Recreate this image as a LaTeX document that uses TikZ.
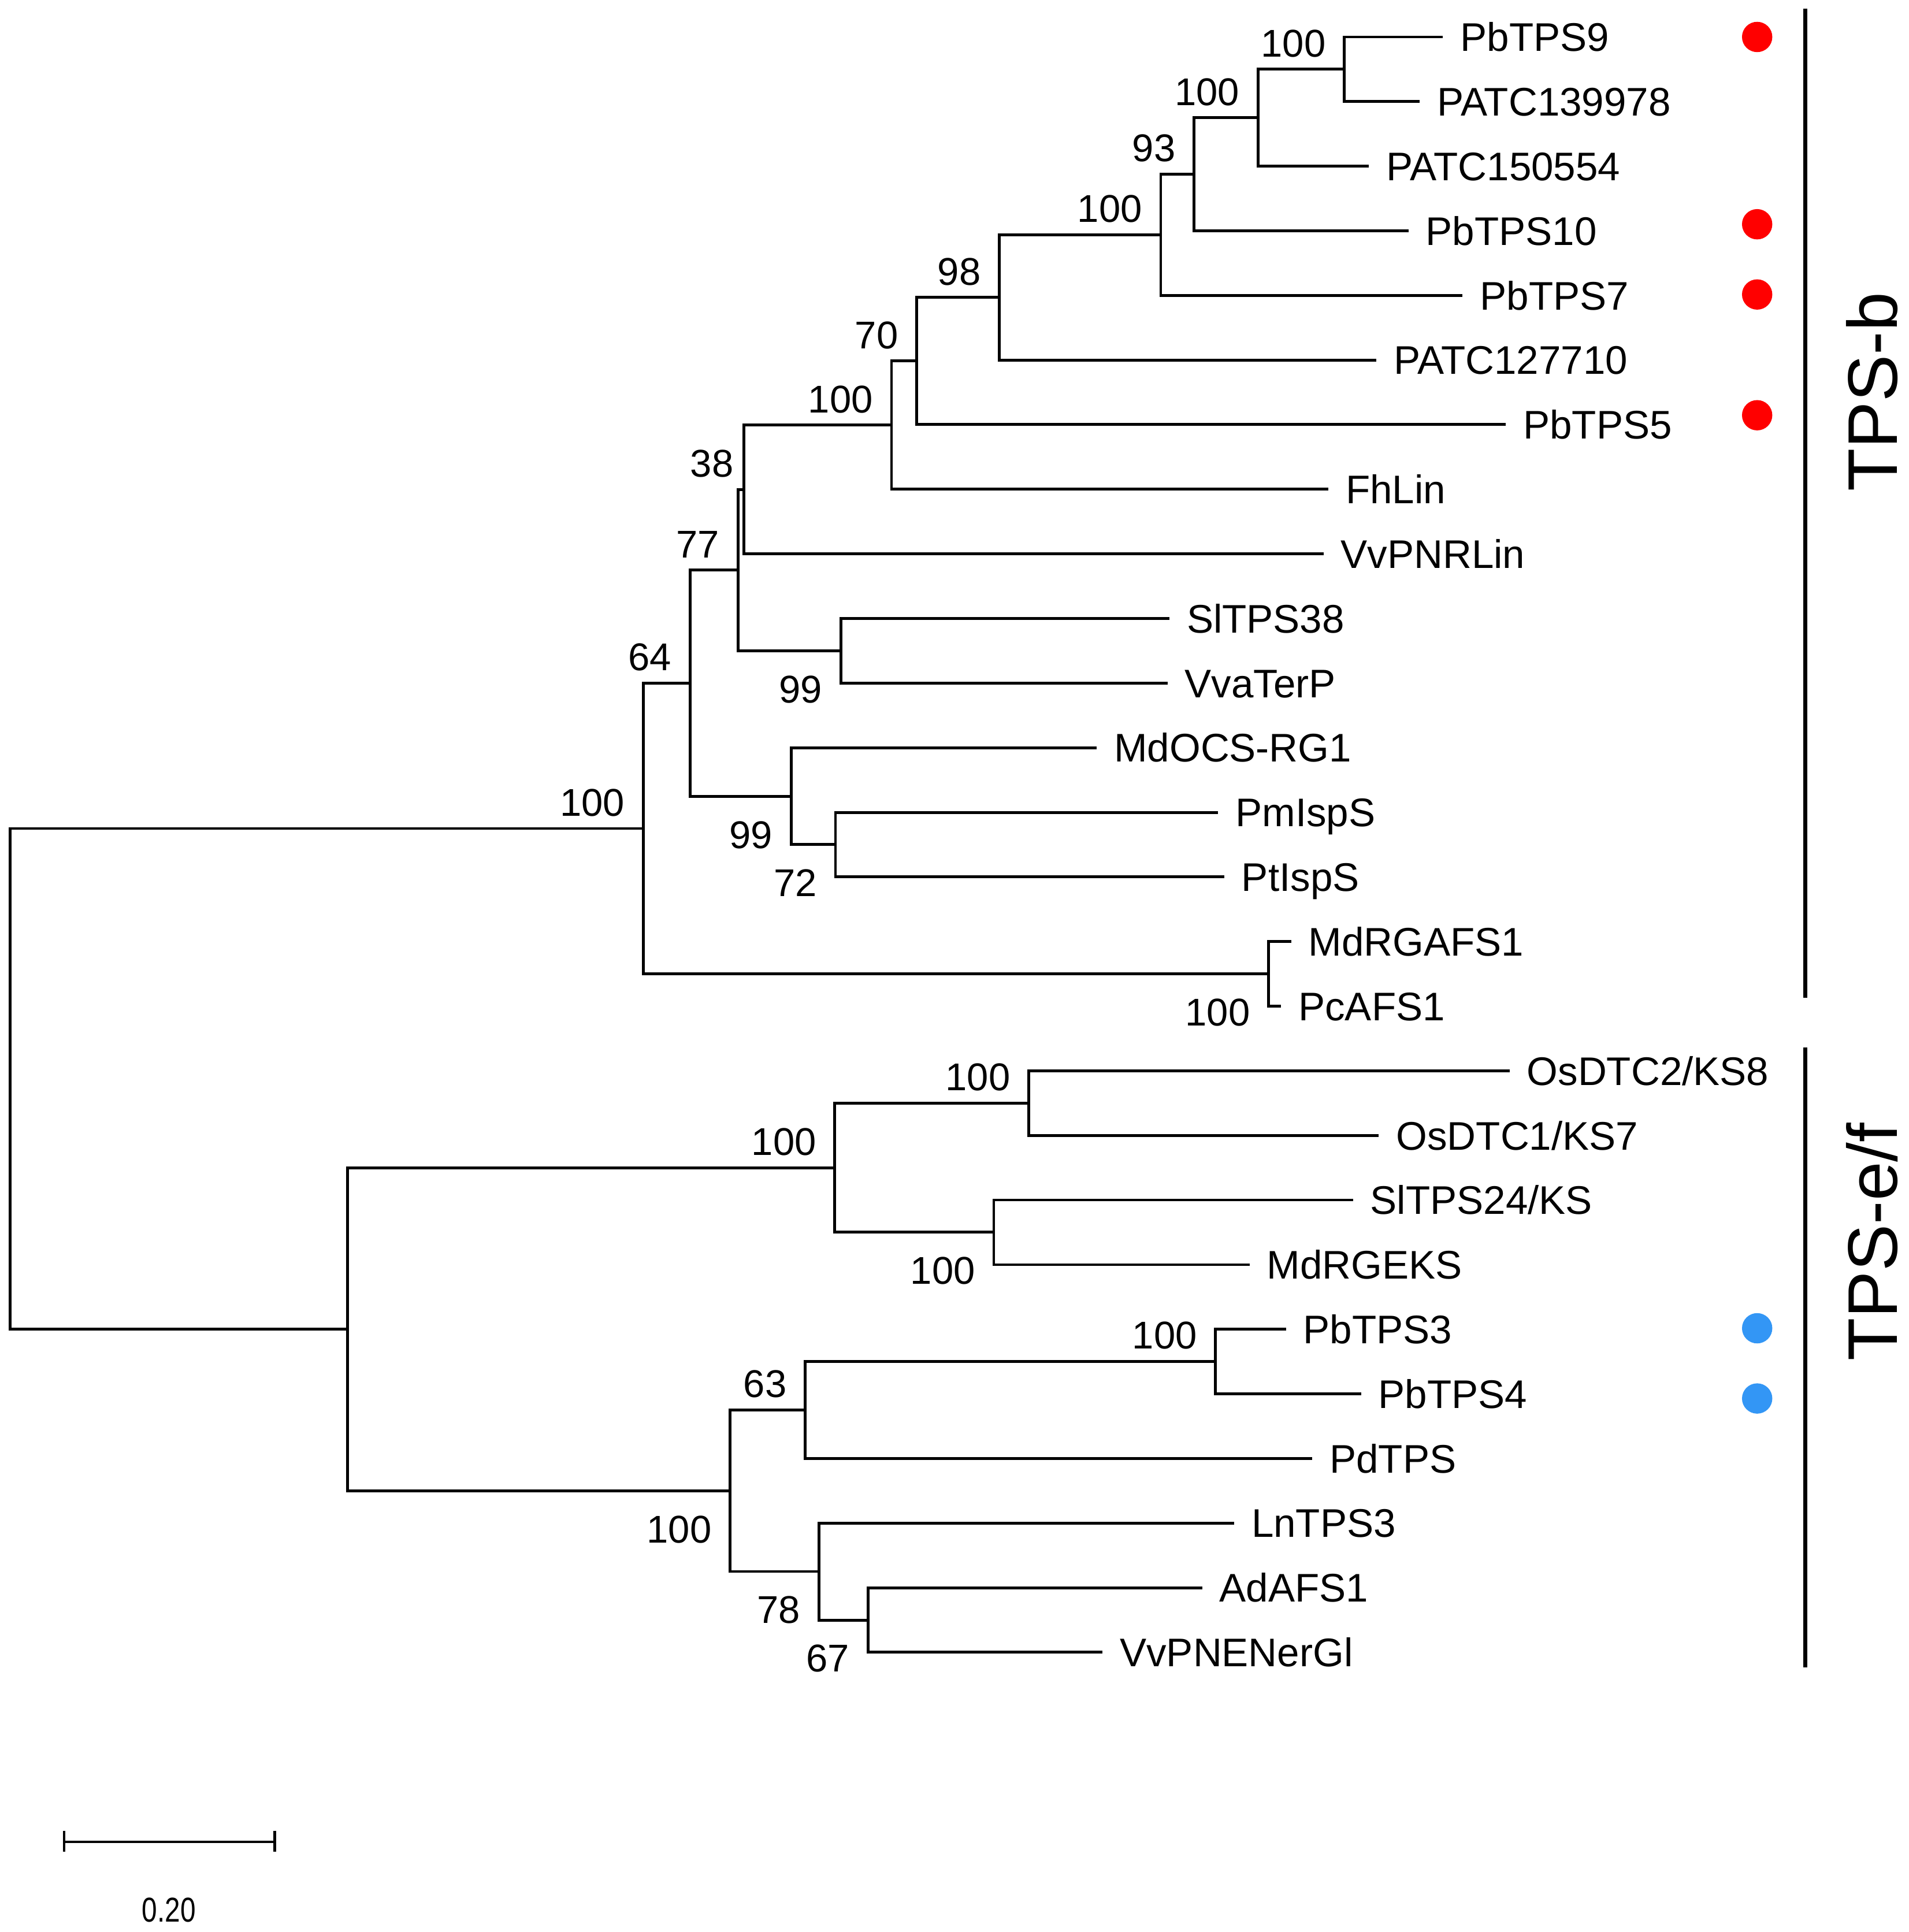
\documentclass[tikz,border=0pt]{standalone}
\usepackage{fontspec}
\setmainfont{Liberation Sans}
\newfontfamily\barfont[FakeStretch=0.8]{Liberation Sans}
\definecolor{tpsred}{RGB}{255,0,0}
\definecolor{tpsblue}{RGB}{51,150,245}

\begin{document}
\begin{tikzpicture}[x=0.5pt, y=-0.5pt, line width=1.15pt,
  leaf/.style={anchor=west, inner xsep=6.5pt, inner ysep=0pt, text height=11.6pt, text depth=0pt, font=\fontsize{16.2}{19}\selectfont},
  bsnum/.style={inner sep=0pt, text height=11.2pt, text depth=0pt, font=\fontsize{15.7}{18}\selectfont},
  bsup/.style={bsnum, anchor=south east, xshift=-7pt, yshift=4.5pt},
  bsdn/.style={bsnum, anchor=north east, xshift=-7pt, yshift=-9.3pt},
  dot/.style={circle, inner sep=0pt, minimum size=12.3pt},
  clade/.style={rotate=90, inner sep=0pt, text height=20.4pt, text depth=0pt, font=\fontsize{28.5}{32}\selectfont},
  cladebar/.style={line width=1.5pt}]
\useasboundingbox (0,0) rectangle (1549,1568);
%
% TPS tree, y in pixels downwards

%% leaves
\node[leaf] (PbTPS9) at (1171,30) {PbTPS9};
\node[leaf] (PATC139978) at (1152,82.4) {PATC139978};
\node[leaf] (PATC150554) at (1111,134.9) {PATC150554};
\node[leaf] (PbTPS10) at (1143,187.3) {PbTPS10};
\node[leaf] (PbTPS7) at (1187,239.8) {PbTPS7};
\node[leaf] (PATC127710) at (1117,292.2) {PATC127710};
\node[leaf] (PbTPS5) at (1222,344.6) {PbTPS5};
\node[leaf] (FhLin) at (1078,397.1) {FhLin};
\node[leaf] (VvPNRLin) at (1074,449.5) {VvPNRLin};
\node[leaf] (SlTPS38) at (949,502) {SlTPS38};
\node[leaf] (VvaTerP) at (947.5,554.4) {VvaTerP};
\node[leaf] (MdOCS) at (890,606.8) {MdOCS-RG1};
\node[leaf] (PmIspS) at (988.6,659.3) {PmIspS};
\node[leaf] (PtIspS) at (993.5,711.7) {PtIspS};
\node[leaf] (MdRGAFS1) at (1047.8,764.2) {MdRGAFS1};
\node[leaf] (PcAFS1) at (1039.6,816.6) {PcAFS1};
\node[leaf] (OsDTC2) at (1225,869) {OsDTC2/KS8};
\node[leaf] (OsDTC1) at (1119,921.5) {OsDTC1/KS7};
\node[leaf] (SlTPS24) at (1098,973.9) {SlTPS24/KS};
\node[leaf] (MdRGEKS) at (1014,1026.4) {MdRGEKS};
\node[leaf] (PbTPS3) at (1043.6,1078.8) {PbTPS3};
\node[leaf] (PbTPS4) at (1104.5,1131.2) {PbTPS4};
\node[leaf] (PdTPS) at (1065,1183.7) {PdTPS};
\node[leaf] (LnTPS3) at (1001.5,1236.1) {LnTPS3};
\node[leaf] (AdAFS1) at (975.6,1288.6) {AdAFS1};
\node[leaf] (VvPNENerGl) at (894.7,1341) {VvPNENerGl};

%% inner nodes
\coordinate (n1) at (1091,56.2);
\coordinate (n2) at (1021,95.5);
\coordinate (n3) at (969,141.4);
\coordinate (n4) at (942,190.6);
\coordinate (n5) at (811,241.4);
\coordinate (n6) at (744,293);
\coordinate (n7) at (723.5,345);
\coordinate (n8) at (603.5,397.3);
\coordinate (n9) at (682.5,528.2);
\coordinate (n10) at (599,462.7);
\coordinate (n11) at (678,685.5);
\coordinate (n12) at (642,646.2);
\coordinate (n13) at (560,554.4);
\coordinate (n14) at (1029.5,790.4);
\coordinate (n15) at (522,672.4);
\coordinate (m1) at (835,895.2);
\coordinate (m2) at (806.5,1000.1);
\coordinate (m3) at (677.5,947.7);
\coordinate (m4) at (986.5,1105);
\coordinate (m5) at (653.5,1144.3);
\coordinate (m6) at (704.5,1314.8);
\coordinate (m7) at (664.5,1275.4);
\coordinate (m8) at (592.5,1209.9);
\coordinate (m9) at (282,1078.8);
\coordinate (root) at (8,875.6);

%% TPS-b branches
\draw (PbTPS9.west) -| (n1) |- (PATC139978.west);
\draw (n1) -| (n2) |- (PATC150554.west);
\draw (n2) -| (n3) |- (PbTPS10.west);
\draw (n3) -| (n4) |- (PbTPS7.west);
\draw (n4) -| (n5) |- (PATC127710.west);
\draw (n5) -| (n6) |- (PbTPS5.west);
\draw (n6) -| (n7) |- (FhLin.west);
\draw (n7) -| (n8) |- (VvPNRLin.west);
\draw (SlTPS38.west) -| (n9) |- (VvaTerP.west);
\draw (n8) -| (n10) |- (n9);
\draw (PmIspS.west) -| (n11) |- (PtIspS.west);
\draw (MdOCS.west) -| (n12) |- (n11);
\draw (n10) -| (n13) |- (n12);
\draw (MdRGAFS1.west) -| (n14) |- (PcAFS1.west);
\draw (n13) -| (n15) |- (n14);
%% TPS-e/f branches
\draw (OsDTC2.west) -| (m1) |- (OsDTC1.west);
\draw (SlTPS24.west) -| (m2) |- (MdRGEKS.west);
\draw (m1) -| (m3) |- (m2);
\draw (PbTPS3.west) -| (m4) |- (PbTPS4.west);
\draw (m4) -| (m5) |- (PdTPS.west);
\draw (AdAFS1.west) -| (m6) |- (VvPNENerGl.west);
\draw (LnTPS3.west) -| (m7) |- (m6);
\draw (m5) -| (m8) |- (m7);
\draw (m3) -| (m9) |- (m8);
%% root
\draw (n15) -| (root) |- (m9);

%% bootstrap values
\node[bsup] (bs1) at (n1) {100};
\node[bsup] (bs2) at (n2) {100};
\node[bsup] (bs3) at (n3) {93};
\node[bsup] (bs4) at (n4) {100};
\node[bsup] (bs5) at (n5) {98};
\node[bsup] (bs6) at (n6) {70};
\node[bsup] (bs7) at (n7) {100};
\node[bsup, xshift=3.4pt] (bs8) at (n8) {38};
\node[bsdn] (bs9) at (n9) {99};
\node[bsup] (bs10) at (n10) {77};
\node[bsdn] (bs11) at (n11) {72};
\node[bsdn] (bs12) at (n12) {99};
\node[bsup] (bs13) at (n13) {64};
\node[bsdn] (bs14) at (n14) {100};
\node[bsup] (bs15) at (n15) {100};
\node[bsup] (bm1) at (m1) {100};
\node[bsdn] (bm2) at (m2) {100};
\node[bsup] (bm3) at (m3) {100};
\node[bsup] (bm4) at (m4) {100};
\node[bsup] (bm5) at (m5) {63};
\node[bsdn] (bm6) at (m6) {67};
\node[bsdn] (bm7) at (m7) {78};
\node[bsdn] (bm8) at (m8) {100};

%% marks
\node[dot, fill=tpsred] (d9) at (1426,30) {};
\node[dot, fill=tpsred] (d10) at (1426,182) {};
\node[dot, fill=tpsred] (d7) at (1426,239) {};
\node[dot, fill=tpsred] (d5) at (1426,337) {};
\node[dot, fill=tpsblue] (d3) at (1426,1078) {};
\node[dot, fill=tpsblue] (d4) at (1426,1135) {};

%% clades
\coordinate (bTop) at (1465,7);
\coordinate (bBot) at (1465,810);
\coordinate (efTop) at (1465,850);
\coordinate (efBot) at (1465,1353);
\draw[cladebar] (bTop) -- (bBot);
\draw[cladebar] (efTop) -- (efBot);
\node[clade] (TPSb) at (1519,318) {TPS-b};
\node[clade] (TPSef) at (1519,1008) {TPS-e/f};

%% scale bar
\coordinate (sbL) at (52,1495);
\coordinate (sbR) at (223,1495);
\draw[line width=1pt] (sbL) -- (sbR);
\draw[line width=1pt] ([yshift=4.6pt]sbL) -- ([yshift=-4pt]sbL);
\draw[line width=1pt] ([yshift=4.6pt]sbR) -- ([yshift=-4pt]sbR);
\node[inner sep=0pt, text height=10pt, text depth=0pt, font=\barfont\fontsize{14}{16}\selectfont] (sbtext) at (137,1550) {0.20};
\end{tikzpicture}
\end{document}
